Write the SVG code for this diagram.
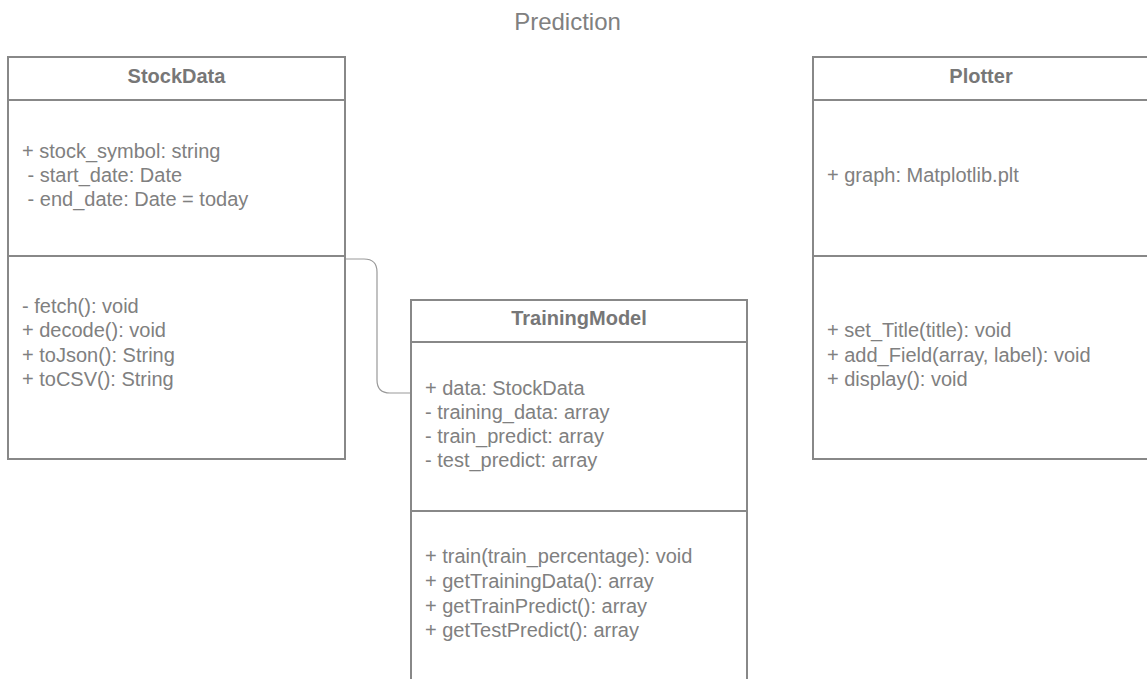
<svg xmlns="http://www.w3.org/2000/svg" width="1147" height="679" viewBox="0 0 1147 679">
<style>
.box{fill:#fff;stroke:#888;stroke-width:2}
.div{stroke:#888;stroke-width:2;fill:none}
.hdr{font-family:"Liberation Sans",Arial,sans-serif;font-size:20px;font-weight:bold;fill:#777;text-anchor:middle}
.txt{font-family:"Liberation Sans",Arial,sans-serif;font-size:20px;fill:#808080;white-space:pre}
.title{font-family:"Liberation Sans",Arial,sans-serif;font-size:24px;fill:#808080;text-anchor:middle}
.conn{fill:none;stroke:#999;stroke-width:1.2}
</style>
<rect width="1147" height="679" fill="#fff"/>
<text class="title" x="567.5" y="30">Prediction</text>
<g id="connectors">
<path class="conn" d="M345 259 H364 Q377 259 377 272 V380 Q377 393 390 393 H411"/>
</g>
<g id="StockData">
<rect class="box" x="8" y="57" width="337" height="402"/>
<line class="div" x1="8" y1="100" x2="345" y2="100"/>
<line class="div" x1="8" y1="256" x2="345" y2="256"/>
<text class="hdr" x="176.5" y="83">StockData</text>
<text class="txt" x="22" y="158">+ stock_symbol: string</text>
<text class="txt" x="22" y="182"> - start_date: Date</text>
<text class="txt" x="22" y="206"> - end_date: Date = today</text>
<text class="txt" x="22" y="313">- fetch(): void</text>
<text class="txt" x="22" y="337">+ decode(): void</text>
<text class="txt" x="22" y="362">+ toJson(): String</text>
<text class="txt" x="22" y="386">+ toCSV(): String</text>
</g>
<g id="TrainingModel">
<rect class="box" x="411" y="300" width="336" height="400"/>
<line class="div" x1="411" y1="342" x2="747" y2="342"/>
<line class="div" x1="411" y1="511" x2="747" y2="511"/>
<text class="hdr" x="579" y="325">TrainingModel</text>
<text class="txt" x="425" y="395">+ data: StockData</text>
<text class="txt" x="425" y="419">- training_data: array</text>
<text class="txt" x="425" y="443">- train_predict: array</text>
<text class="txt" x="425" y="467">- test_predict: array</text>
<text class="txt" x="425" y="563">+ train(train_percentage): void</text>
<text class="txt" x="425" y="588">+ getTrainingData(): array</text>
<text class="txt" x="425" y="613">+ getTrainPredict(): array</text>
<text class="txt" x="425" y="637">+ getTestPredict(): array</text>
</g>
<g id="Plotter">
<rect class="box" x="813" y="57" width="337" height="402"/>
<line class="div" x1="813" y1="100" x2="1150" y2="100"/>
<line class="div" x1="813" y1="256" x2="1150" y2="256"/>
<text class="hdr" x="981" y="83">Plotter</text>
<text class="txt" x="827" y="182">+ graph: Matplotlib.plt</text>
<text class="txt" x="827" y="337">+ set_Title(title): void</text>
<text class="txt" x="827" y="362">+ add_Field(array, label): void</text>
<text class="txt" x="827" y="386">+ display(): void</text>
</g>
</svg>
